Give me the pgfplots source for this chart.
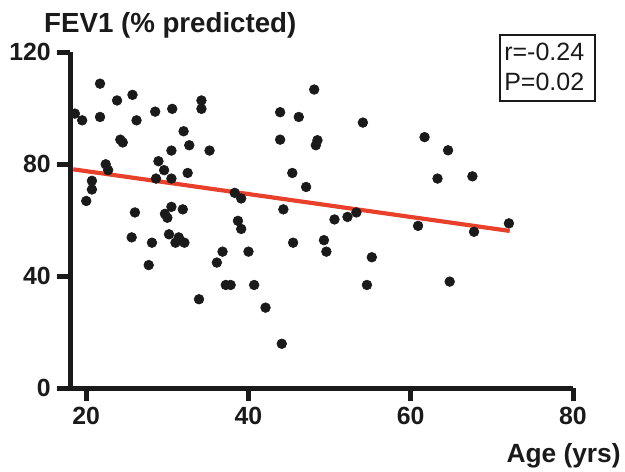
\documentclass[border=0pt]{standalone}
\usepackage{fontspec}
\setmainfont{Liberation Sans}
\usepackage{pgfplots}
\pgfplotsset{compat=1.18}
\definecolor{ink}{HTML}{1A1A1A}
\definecolor{fitred}{HTML}{E8402A}
\begin{document}
\begin{tikzpicture}
\begin{axis}[
    scale only axis,
    width=301.8pt, height=201.6pt,
    xmin=18, xmax=80, ymin=0, ymax=120,
    axis x line=bottom, axis y line=left,
    axis line style={-, line width=3pt, color=ink},
    xtick={20,40,60,80}, ytick={0,40,80,120},
    tick align=outside,
    major tick length=8pt,
    tick style={line width=3pt, color=ink},
    tick label style={font=\bfseries\fontsize{14.9}{16}\selectfont, text=ink},
    /pgf/number format/assume math mode=true,
    clip=false,
]
\addplot[only marks, mark=*, mark size=2.9pt, color=ink] coordinates {
(18.6,98.0) (19.5,95.6) (21.7,108.7) (21.7,96.8) (23.8,102.7) (25.7,104.7)
(26.2,95.6) (28.5,98.7) (30.6,99.7) (34.2,102.7) (34.2,99.7) (32.0,91.7)
(24.2,88.7) (24.5,87.7) (32.7,86.7) (30.5,84.8) (35.2,84.8) (28.9,81.0)
(22.4,79.9) (22.7,77.8) (29.6,77.8) (32.5,76.8) (28.6,74.8) (30.5,74.8)
(20.7,74.0) (20.7,70.9) (20.0,66.8) (26.0,62.7) (30.5,64.7) (31.9,63.8)
(29.7,62.2) (30.0,60.8) (25.6,53.8) (28.1,51.9) (30.2,54.9) (31.4,53.8)
(31.0,51.9) (32.1,51.9) (27.7,43.9) (33.9,31.7) (36.1,44.8) (36.8,48.7)
(37.2,36.8) (37.8,36.8) (38.3,69.7) (39.1,67.7) (38.7,59.7) (39.1,56.8)
(40.0,48.7) (40.7,36.8) (42.1,28.7) (44.1,15.8) (44.3,63.8) (45.5,51.9)
(45.4,76.8) (47.1,71.8) (43.9,98.5) (46.2,96.8) (43.9,88.7) (48.5,88.5)
(48.3,86.7) (48.1,106.6) (49.3,52.8) (49.6,48.7) (50.6,60.2) (52.2,61.1)
(53.3,62.7) (54.1,94.8) (54.6,36.8) (55.2,46.7) (60.9,57.9) (61.7,89.6)
(63.3,74.8) (64.6,84.9) (64.8,38.0) (67.6,75.6) (67.8,55.8) (72.1,58.8)
};
\addplot[no marks, color=fitred, line width=2.5pt] coordinates {(18.4,78.1) (72.2,56.1)};
% labels and stats box
\node[anchor=base west, font=\bfseries\fontsize{16.6}{18}\selectfont, text=ink, inner sep=0pt]
  at (rel axis cs:-0.052,1.0595) {FEV1 (\% predicted)};
\node[anchor=base east, font=\bfseries\fontsize{15.8}{18}\selectfont, text=ink, inner sep=0pt]
  at (rel axis cs:1.0954,-0.223) {Age (yrs)};
\draw[ink, line width=0.7pt] (rel axis cs:0.855,1.0506) rectangle (rel axis cs:1.0437,0.854);
\node[anchor=base west, font=\fontsize{15}{18}\selectfont, text=ink, inner sep=0pt]
  at (rel axis cs:0.8628,0.976) {r=-0.24};
\node[anchor=base west, font=\fontsize{15}{18}\selectfont, text=ink, inner sep=0pt]
  at (rel axis cs:0.8628,0.884) {P=0.02};
\path (rel axis cs:-0.1392,1.1548) rectangle (rel axis cs:1.1034,-0.25);
\end{axis}
\end{tikzpicture}
\end{document}
